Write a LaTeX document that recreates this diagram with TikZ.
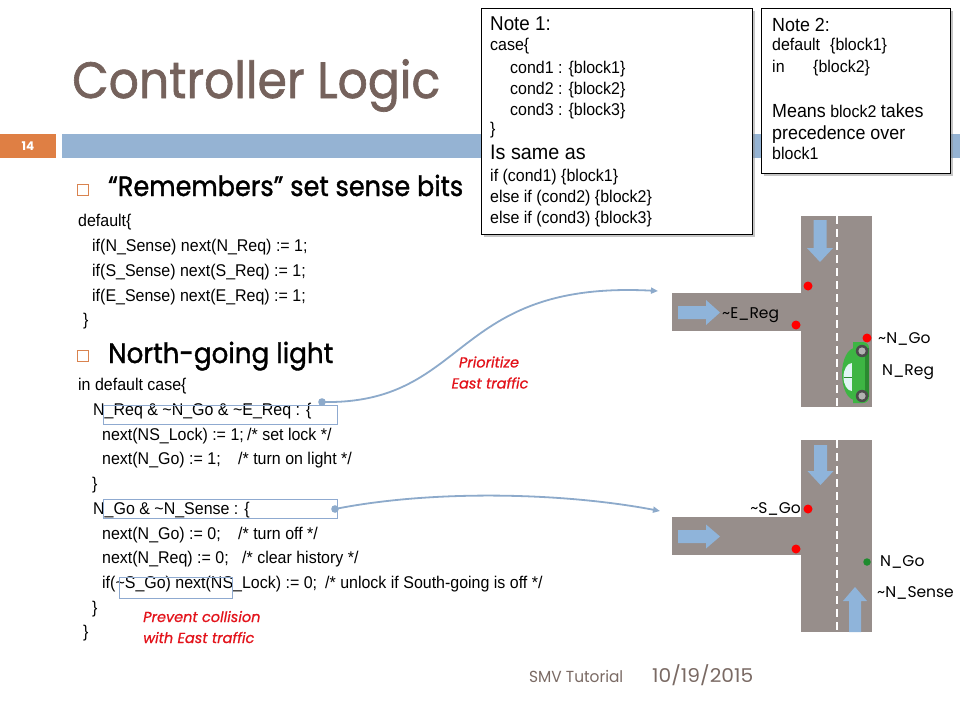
\documentclass[tikz,border=0pt]{standalone}
\usepackage{fontspec}
\usepackage{graphicx}
\setmainfont{Liberation Sans}
\newfontfamily\fut{Poppins}
\newfontfamily\futb{Poppins}[FakeBold=1.3]
\newfontfamily\futr{Poppins}[FakeBold=0.8]
\usetikzlibrary{shadows,arrows.meta}
\newcommand\fsz[1]{\fontsize{#1}{#1}\selectfont}
\newcommand\cs[1]{\scalebox{0.94}[1]{#1}}
\definecolor{titlecol}{HTML}{75625C}
\definecolor{footcol}{HTML}{7A6A64}
\definecolor{barblue}{HTML}{95B3D3}
\definecolor{barorange}{HTML}{DF7F44}
\definecolor{bulletcol}{HTML}{D9834F}
\definecolor{road}{HTML}{978E8B}
\definecolor{arrowblue}{HTML}{8FB4DA}
\definecolor{conncol}{HTML}{8DAACB}
\definecolor{hlcol}{HTML}{8FAAD0}
\definecolor{redlab}{HTML}{E3131B}
\definecolor{dotred}{HTML}{FF0000}
\definecolor{dotgreen}{HTML}{1E8B2E}
\definecolor{cargreen}{HTML}{3DB543}
\definecolor{cardark}{HTML}{2A8A30}
\definecolor{carwin}{HTML}{E2F6F6}
\tikzset{
  codeline/.style={anchor=base west, inner sep=0pt, font=\fsz{17}},
  notetext/.style={anchor=base west, inner sep=0pt, font=\fsz{17}},
  notebox/.style={draw=black, line width=0.8pt, fill=white, anchor=north west, inner sep=0pt,
     drop shadow={shadow xshift=3pt, shadow yshift=-3pt, fill=black!45, opacity=0.5}},
  hlbox/.style={draw=hlcol, line width=0.9pt, anchor=north west, inner sep=0pt},
  bulletbox/.style={draw=bulletcol, line width=1.2pt, minimum size=11pt, inner sep=0pt},
  roadlab/.style={anchor=base west, inner sep=0pt, font=\fut\fsz{15.5}},
  redtext/.style={inner sep=0pt, text=redlab, font=\futr\itshape\fsz{14.5}},
  conn/.style={draw=conncol, line width=1.8pt, -{Triangle[length=7pt,width=6pt]}},
  reddot/.style={circle, fill=dotred, inner sep=0pt, minimum size=9pt},
}
\begin{document}
\begin{tikzpicture}[x=1pt,y=-1pt]
\useasboundingbox (0,0) rectangle (960,720);
\fill[white] (0,0) rectangle (960,720);

% title and bars
\node[anchor=base west, inner sep=0pt, text=titlecol] (title) at (72,98)
  {\futb\fsz{51}\resizebox{368pt}{\height}{Controller Logic}};
\fill[barorange] (0,134) rectangle (56,158);
\fill[barblue] (62,134) rectangle (960,158);
\node[text=white, inner sep=0pt, font=\fut\bfseries\fsz{12}] (pnum) at (28,146.5) {14};

% headings
\node[bulletbox] (b1) at (83,190) {};
\node[anchor=base west, inner sep=0pt] (h1) at (108,196)
  {\futb\fsz{28}\resizebox{355pt}{\height}{“Remembers” set sense bits}};
\node[bulletbox] (b2) at (83,356) {};
\node[anchor=base west, inner sep=0pt] (h2) at (108,363)
  {\futb\fsz{28}\resizebox{225pt}{\height}{North-going light}};

% code block 1
\node[codeline] (l1) at (78,226) {\cs{default\{}};
\node[codeline] (l2) at (92,251) {\cs{if(N\_Sense) next(N\_Req) := 1;}};
\node[codeline] (l3) at (92,276) {\cs{if(S\_Sense) next(S\_Req) := 1;}};
\node[codeline] (l4) at (92,301) {\cs{if(E\_Sense) next(E\_Req) := 1;}};
\node[codeline] (l5) at (83,325) {\cs{\}}};

% code block 2
\node[codeline] (m1) at (78,390) {\cs{in default case\{}};
\node[codeline] (m2) at (93,415) {\cs{N\_Req \& \textasciitilde N\_Go \& \textasciitilde E\_Req : \{}};
\node[codeline] (m3) at (102,440) {\makebox[145pt][l]{\cs{next(NS\_Lock) := 1;}}\cs{/* set lock */}};
\node[codeline] (m4) at (102,464.5) {\makebox[136pt][l]{\cs{next(N\_Go) := 1;}}\cs{/* turn on light */}};
\node[codeline] (m5) at (92,489) {\cs{\}}};
\node[codeline] (m6) at (93,514) {\cs{N\_Go \& \textasciitilde N\_Sense : \{}};
\node[codeline] (m7) at (102,539) {\makebox[136pt][l]{\cs{next(N\_Go) := 0;}}\cs{/* turn off */}};
\node[codeline] (m8) at (102,563) {\makebox[140pt][l]{\cs{next(N\_Req) := 0;}}\cs{/* clear history */}};
\node[codeline] (m9) at (102,588) {\makebox[223pt][l]{\cs{if(\textasciitilde S\_Go) next(NS\_Lock) := 0;}}\cs{/* unlock if South-going is off */}};
\node[codeline] (m10) at (92,613) {\cs{\}}};
\node[codeline] (m11) at (83,637) {\cs{\}}};

% highlight boxes
\node[hlbox, minimum width=234pt, minimum height=19pt] (hl1) at (103,405) {};
\node[hlbox, minimum width=234pt, minimum height=19pt] (hl2) at (103,499) {};
\node[hlbox, minimum width=113pt, minimum height=21pt] (hl3) at (119,577) {};

% red labels
\node[redtext] (pr1) at (489,362) {Prioritize};
\node[redtext] (pr2) at (490,383) {East traffic};
\node[redtext, anchor=base west] (pc1) at (143,622) {Prevent collision};
\node[redtext, anchor=base west] (pc2) at (143,643) {with East traffic};

% note 1
\node[notebox, minimum width=271pt, minimum height=226pt] (note1) at (481,8) {};
\node[notetext, font=\fsz{20}] (n1a) at (490,30) {\cs{Note 1:}};
\node[notetext] (n1b) at (490,50) {\cs{case\{}};
\node[notetext] (n1c) at (510,73) {\cs{cond1 : \{block1\}}};
\node[notetext] (n1d) at (510,94) {\cs{cond2 : \{block2\}}};
\node[notetext] (n1e) at (510,115) {\cs{cond3 : \{block3\}}};
\node[notetext] (n1f) at (490,134) {\cs{\}}};
\node[notetext, font=\fsz{21}] (n1g) at (490,159) {\cs{Is same as}};
\node[notetext] (n1h) at (490,181) {\cs{if (cond1) \{block1\}}};
\node[notetext] (n1i) at (490,202) {\cs{else if (cond2) \{block2\}}};
\node[notetext] (n1j) at (490,223) {\cs{else if (cond3) \{block3\}}};

% note 2
\node[notebox, minimum width=189pt, minimum height=165pt] (note2) at (761,8) {};
\node[notetext, font=\fsz{19}] (n2a) at (772,31) {\cs{Note 2:}};
\node[notetext] (n2b) at (772,50) {\makebox[58pt][l]{\cs{default}}\cs{\{block1\}}};
\node[notetext] (n2c) at (772,72) {\makebox[41pt][l]{\cs{in}}\cs{\{block2\}}};
\node[notetext] (n2d) at (772,117) {\cs{{\fsz{19}Means} block2 {\fsz{19}takes}}};
\node[notetext, font=\fsz{19}] (n2e) at (772,139) {\cs{precedence over}};
\node[notetext] (n2f) at (772,159) {\cs{block1}};

% intersection 1
\fill[road] (801,216) rectangle (872,407);
\fill[road] (672,293) rectangle (801,331);
\draw[white, line width=2pt, dash pattern=on 8pt off 5pt] (837,216) -- (837,407);
\fill[arrowblue] (813.5,220) -- (826.5,220) -- (826.5,248) -- (833,248) -- (820,262) -- (807,248) -- (813.5,248) -- cycle;
\fill[arrowblue] (678,306) -- (706,306) -- (706,300) -- (720,312.5) -- (706,325) -- (706,319) -- (678,319) -- cycle;
% car
\fill[cargreen] (853,342) -- (863,342) arc[start angle=-90, end angle=0, radius=6] -- (869,397) arc[start angle=0, end angle=90, radius=6] -- (853,403) -- cycle;
\fill[cargreen] (855,374) ellipse[x radius=13, y radius=26];
\fill[cardark] (865,348) rectangle (869,397);
\fill[carwin] (852,377) ellipse[x radius=8.5, y radius=14];
\fill[cargreen] (852,360) rectangle (862,395);
\draw[cardark, line width=0.8pt] (843.5,377) -- (852,377);
\foreach \wy in {351,396} {
  \fill[black!70] (862,\wy) circle[radius=6.2];
  \fill[black!30] (862,\wy) circle[radius=3.6];
}
\node[reddot] (d1) at (808,286) {};
\node[reddot] (d2) at (796,325) {};
\node[reddot] (d3) at (867,338) {};
\node[roadlab] (t1) at (722,318) {\textasciitilde E\_Reg};
\node[roadlab] (t2) at (878,343) {\textasciitilde N\_Go};
\node[roadlab] (t3) at (882,375) {N\_Reg};

% intersection 2
\fill[road] (801,440) rectangle (872,632);
\fill[road] (672,517) rectangle (801,555);
\draw[white, line width=2pt, dash pattern=on 8pt off 5pt] (837,440) -- (837,632);
\fill[arrowblue] (814,445) -- (827,445) -- (827,471) -- (833.5,471) -- (820.5,485) -- (807.5,471) -- (814,471) -- cycle;
\fill[arrowblue] (678,530) -- (706,530) -- (706,524.5) -- (720,536.5) -- (706,548.5) -- (706,543) -- (678,543) -- cycle;
\fill[arrowblue] (849,632) -- (849,601) -- (843,601) -- (855,587) -- (867,601) -- (861,601) -- (861,632) -- cycle;
\node[reddot] (d4) at (808,509) {};
\node[reddot] (d5) at (796,549) {};
\node[circle, fill=dotgreen, inner sep=0pt, minimum size=7.5pt] (d6) at (867,562) {};
\node[roadlab, anchor=base east] (t4) at (801,513) {\textasciitilde S\_Go};
\node[roadlab] (t5) at (880,566) {N\_Go};
\node[roadlab] (t6) at (877,597) {\textasciitilde N\_Sense};

% connectors
\coordinate (c1s) at (322,402);
\coordinate (c1e) at (658,291);
\coordinate (c2s) at (335,509);
\coordinate (c2e) at (660,511);
\draw[conn] (c1s) .. controls (470,405) and (450,280) .. (c1e);
\draw[conn] (c2s) .. controls (430,490) and (560,492) .. (c2e);
\fill[conncol] (c1s) circle[radius=3.8];
\fill[conncol] (c2s) circle[radius=3.8];

% footer
\node[anchor=base west, inner sep=0pt, text=footcol] (f1) at (529,682)
  {\fut\fsz{16}\resizebox{94pt}{\height}{SMV Tutorial}};
\node[anchor=base west, inner sep=0pt, text=footcol] (f2) at (652,682)
  {\fut\fsz{19}\resizebox{101pt}{\height}{10/19/2015}};
\end{tikzpicture}
\end{document}
